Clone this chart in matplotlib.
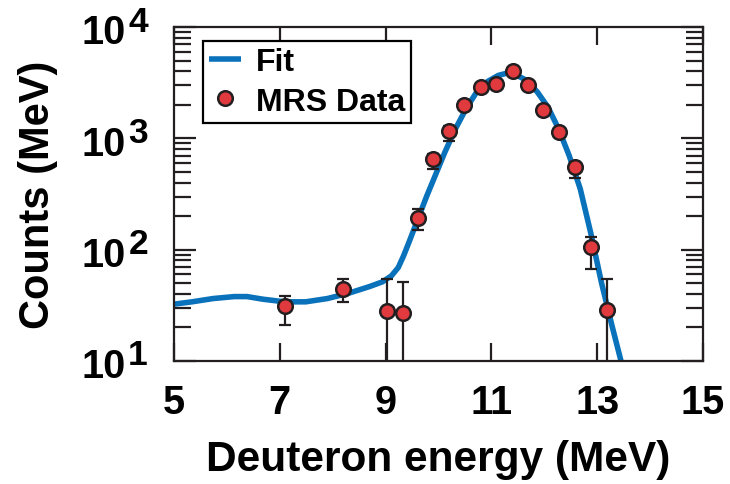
import matplotlib
matplotlib.use("Agg")
import matplotlib.pyplot as plt
from matplotlib.transforms import blended_transform_factory, offset_copy
import numpy as np

# Fit curve (deuteron energy in MeV, counts per MeV)
fit_energy = [5.00, 5.34, 5.74, 6.14, 6.38, 6.68, 7.09, 7.49, 7.90, 8.30,
              8.70, 8.94, 9.11, 9.24, 9.34, 9.44, 9.61, 9.78, 9.95, 10.12,
              10.32, 10.52, 10.72, 10.93, 11.13, 11.30, 11.46, 11.67, 11.87,
              12.07, 12.27, 12.47, 12.68, 12.88, 13.08, 13.28, 13.45, 13.60]
fit_counts = [32.4, 34.0, 36.4, 37.9, 37.9, 35.9, 34.0, 34.0, 36.4, 40.6,
              46.7, 51.4, 58.2, 69.2, 88.1, 116, 188, 305, 478, 750,
              1216, 1841, 2600, 3245, 3675, 3855, 3724, 3311, 2600,
              1905, 1216, 700, 351, 140, 50.7, 20.7, 10.0, 5.0]

# MRS measurements with asymmetric uncertainties
mrs_energy = [7.09, 8.20, 9.03, 9.32, 9.61, 9.90, 10.20, 10.49, 10.80,
              11.08, 11.40, 11.69, 11.98, 12.28, 12.58, 12.88, 13.19]
mrs_counts = [31, 44, 28, 27, 191, 653, 1159, 2000, 2900,
              3050, 4020, 2985, 1800, 1135, 550, 106, 28.6]
mrs_err_lo = [10, 10, 27, 26, 42, 122, 217, 150, 150,
              150, 150, 150, 120, 100, 109, 39, 27.6]
mrs_err_hi = [7, 10, 26, 24, 41, 71, 120, 150, 150,
              150, 150, 150, 120, 100, 60, 23, 26]

x_ticks = [5, 7, 9, 11, 13, 15]
y_exponents = [1, 2, 3, 4]

plt.rcParams["font.family"] = ["Liberation Sans", "DejaVu Sans"]
plt.rcParams["font.weight"] = "bold"

ink = "#231f20"
fig = plt.figure(figsize=(7.30, 4.85), dpi=100)
ax = fig.add_axes([174 / 730, (485 - 362) / 485, (703 - 174) / 730, (362 - 28) / 485])

ax.plot(fit_energy, fit_counts, color="#0a72bb", lw=4.0, zorder=2,
        label="Fit", solid_capstyle="butt")
ax.errorbar(mrs_energy, mrs_counts, yerr=[mrs_err_lo, mrs_err_hi],
            fmt="none", ecolor=ink, elinewidth=1.6, capsize=4, capthick=1.6,
            zorder=3)
ax.plot(mrs_energy, mrs_counts, ls="none", marker="o", ms=10.5,
        mfc="#e03a3e", mec=ink, mew=1.8, zorder=4, label="MRS Data")

ax.set_yscale("log")
ax.set_xlim(5, 15)
ax.set_ylim(10, 1e4)

ax.set_xticks(x_ticks)
ax.set_xticklabels([str(t) for t in x_ticks])
ax.set_yticks([10.0 ** e for e in y_exponents])
ax.yaxis.set_minor_locator(matplotlib.ticker.LogLocator(base=10, subs=np.arange(2, 10)))
ax.yaxis.set_minor_formatter(matplotlib.ticker.NullFormatter())
ax.set_yticklabels([])

ax.tick_params(axis="x", which="major", direction="in", length=13, width=1.6,
               top=True, bottom=True, labelsize=28.5, pad=16, color=ink)
ax.tick_params(axis="y", which="major", direction="in", length=16, width=1.6,
               left=True, right=True, color=ink)
ax.tick_params(axis="y", which="minor", direction="in", length=12.5, width=1.6,
               left=True, right=True, color=ink)
for lab in ax.get_xticklabels():
    lab.set_fontweight("bold")

for s in ax.spines.values():
    s.set_linewidth(1.6)
    s.set_color(ink)

# Power-of-ten labels with a large exponent
trans = blended_transform_factory(ax.transAxes, ax.transData)
for e in y_exponents:
    base_tr = offset_copy(trans, fig=fig, x=-48, y=-5.5, units="dots")
    ax.text(0, 10.0 ** e, "10", transform=base_tr, ha="right", va="center",
            fontsize=28.5, fontweight="bold", color="black")
    exp_tr = offset_copy(trans, fig=fig, x=-26, y=6, units="dots")
    ax.text(0, 10.0 ** e, str(e), transform=exp_tr, ha="right", va="center",
            fontsize=25.5, fontweight="bold", color="black")

ax.set_xlabel("Deuteron energy (MeV)", fontsize=30.5, fontweight="bold", labelpad=13)
ax.set_ylabel("Counts (MeV)", fontsize=30, fontweight="bold", labelpad=80)

leg = ax.legend(loc="upper left", bbox_to_anchor=(0.055, 0.959), borderaxespad=0,
                prop={"weight": "bold", "size": 23}, frameon=True,
                fancybox=False, framealpha=1, edgecolor="black",
                handlelength=1.0, handletextpad=0.45, borderpad=0.2,
                labelspacing=0.3)
leg.get_frame().set_linewidth(1.6)

fig.savefig("out.png", dpi=100)
